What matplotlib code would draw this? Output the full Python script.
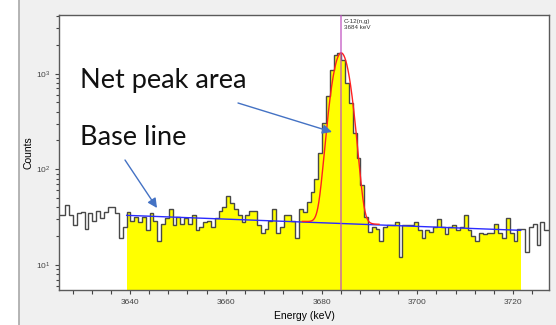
import numpy as np
import matplotlib
matplotlib.use("Agg")
import matplotlib.pyplot as plt
from matplotlib.ticker import FixedLocator, LogLocator, NullFormatter

# spectrum: channel calibration and counts per channel
e_start = 3624.9      # keV, low edge of first channel
e_width = 0.8         # keV per channel
counts = [33, 33, 42, 33, 26, 35, 36, 24, 35, 29, 37, 31, 36, 40, 40, 35, 19, 25,
          36, 29, 32, 28, 32, 23, 35, 29, 18, 27, 31, 38, 26, 32, 27,
          31, 27, 33, 23, 25, 28, 29, 25, 31, 37, 40, 52, 44, 38, 33, 28, 33, 37,
          37, 26, 21.5, 24, 29, 38, 21.5, 25, 33, 33, 29, 19, 38,
          36, 46, 58, 80, 147, 305, 580, 1100, 1550, 1660, 1380, 797, 494, 240,
          131, 69, 32, 22,
          25, 24, 18, 25, 26, 26, 28, 12, 26, 26, 26, 28, 23, 19, 23, 22, 25, 30,
          25, 21, 25, 26, 23, 25, 33, 23, 20, 18, 21.5, 21, 21.5, 21.5, 27, 21.5,
          19, 31, 21.5, 17.6, 24, 24, 13.8, 25, 27, 16, 28, 23, 23]
roi_first, roi_last = 18, 120   # channels included in the peak region (yellow)

# baseline and fitted peak
base_e = [3639.3, 3721.6]
base_c = [33, 23]
peak_e = 3684.1
peak_h = 1620
peak_sigma = 1.55
fit_range = [3676.0, 3692.0]

line_label = "C-12(n,g)\n3684 keV"

edges = e_start + e_width * np.arange(len(counts) + 1)
counts = np.array(counts, dtype=float)

fig = plt.figure(figsize=(5.56, 3.25), dpi=100, facecolor="#f0f0f0")
fig.patches.append(plt.Rectangle((0, 0), 18.5 / 556, 1, transform=fig.transFigure,
                                 facecolor="white", edgecolor="none", zorder=0))
fig.add_artist(plt.Line2D([18.5 / 556] * 2, [0, 1], transform=fig.transFigure,
                          color="#a8a8a8", lw=1.2))

ax = fig.add_axes([59 / 556, 35 / 325, 490 / 556, 275 / 325])
ax.set_facecolor("white")
ax.set_yscale("log")
ax.set_xlim(3625.17, 3727.5)
ax.set_ylim(5.47, 4100)

# yellow peak region
ax.stairs(counts[roi_first:roi_last + 1], edges[roi_first:roi_last + 2],
          fill=True, baseline=1, color="#ffff00", zorder=1)
ax.stairs(counts, edges, color="#484848", lw=1.0, zorder=2)

# baseline
ax.plot(base_e, base_c, color="#2a2aff", lw=1.0, zorder=3)
# gaussian fit on top of baseline
ef = np.linspace(fit_range[0], fit_range[1], 300)
bl = np.interp(ef, base_e, base_c)
ax.plot(ef, bl + peak_h * np.exp(-0.5 * ((ef - peak_e) / peak_sigma) ** 2),
        color="#ff2020", lw=1.0, zorder=3)

# energy marker line
ax.axvline(3684.0, color="#c050c0", lw=1.2, alpha=0.75, zorder=4)
ax.text(3684.0 + 0.6, 0.985, line_label, transform=ax.get_xaxis_transform(),
        fontsize=4.5, va="top", ha="left", color="#333333", linespacing=1.1,
        family="Liberation Sans")

# axes styling
for s in ax.spines.values():
    s.set_color("#5a5a5a")
    s.set_linewidth(1.0)
ax.xaxis.set_major_locator(FixedLocator([3640, 3660, 3680, 3700, 3720]))
ax.xaxis.set_minor_locator(FixedLocator(np.arange(3628, 3728, 4)))
ax.yaxis.set_major_locator(LogLocator(base=10))
ax.yaxis.set_minor_locator(LogLocator(base=10, subs=np.arange(2, 10)))
ax.yaxis.set_minor_formatter(NullFormatter())
ax.tick_params(which="both", direction="out", colors="#444444", labelsize=6,
               length=3, width=0.8)
ax.tick_params(which="minor", length=2)
ax.tick_params(axis="x", which="both", length=3)
for lab in ax.get_xticklabels() + ax.get_yticklabels():
    lab.set_family("Liberation Sans")

ax.set_xlabel("Energy (keV)", fontsize=7.5, family="Liberation Sans")
ax.set_ylabel("Counts", fontsize=7.5, family="Liberation Sans")
ax.xaxis.set_label_coords(0.5, -26 / 275, transform=ax.transAxes)
ax.yaxis.set_label_coords(-30 / 490, 0.5, transform=ax.transAxes)
ax.xaxis.label.set_verticalalignment("center")
ax.yaxis.label.set_verticalalignment("center")

# annotations
W, H = 556, 325
fig.text(80 / W, 1 - 88 / H, "Net peak area", fontsize=19.5, family="Lato",
         color="#111111", va="baseline")
fig.text(80 / W, 1 - 145 / H, "Base line", fontsize=19.5, family="Lato",
         color="#111111", va="baseline")
arrow = dict(arrowstyle="-|>", color="#4472c4", lw=1.0, mutation_scale=14,
             shrinkA=0, shrinkB=0)
ax.annotate("", xy=(332 / W, 1 - 132 / H), xytext=(238 / W, 1 - 103 / H),
            xycoords="figure fraction", textcoords="figure fraction",
            arrowprops=arrow, zorder=6)
ax.annotate("", xy=(157 / W, 1 - 208 / H), xytext=(125 / W, 1 - 160 / H),
            xycoords="figure fraction", textcoords="figure fraction",
            arrowprops=arrow, zorder=6)

fig.savefig("out.png", dpi=100, facecolor=fig.get_facecolor())
